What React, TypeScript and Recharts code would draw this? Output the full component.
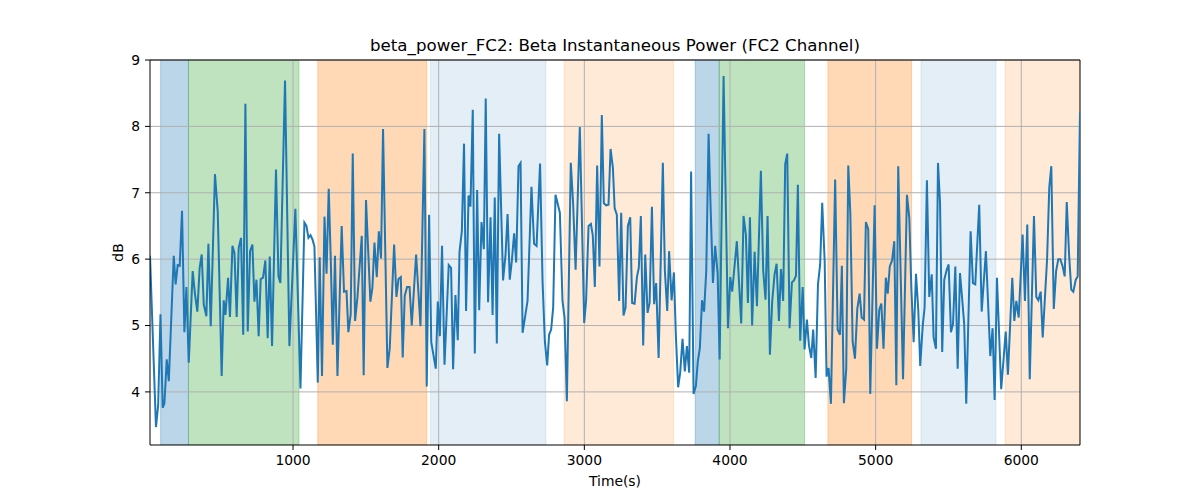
import React from 'react';
import { ComposedChart, Line, XAxis, YAxis, ReferenceArea, ReferenceLine } from 'recharts';

const times = [18,59,74,90,105,117,133,147,181,194,208,222,238,254,268,284,311,327,343,359,373,387,405,419,435,464,483,510,524,536,554,567,584,598,613,627,643,658,673,689,705,721,735,749,764,778,794,810,826,840,856,883,900,913,945,975,1016,1051,1078,1092,1106,1120,1133,1147,1170,1183,1199,1216,1230,1245,1259,1273,1288,1305,1334,1350,1367,1380,1396,1410,1426,1442,1472,1485,1501,1531,1545,1559,1575,1589,1604,1618,1648,1664,1694,1710,1724,1740,1753,1767,1783,1800,1815,1845,1875,1902,1918,1934,1949,1980,1994,2008,2023,2040,2069,2085,2099,2115,2131,2143,2159,2174,2188,2205,2218,2234,2248,2264,2278,2294,2310,2323,2339,2356,2370,2385,2399,2415,2442,2459,2473,2488,2502,2518,2532,2548,2562,2576,2610,2637,2655,2672,2696,2713,2729,2745,2758,2772,2786,2802,2832,2850,2864,2880,2907,2923,2940,2969,2999,3012,3029,3045,3058,3072,3088,3104,3120,3134,3150,3166,3180,3196,3208,3223,3239,3253,3269,3283,3299,3315,3328,3345,3361,3374,3388,3404,3418,3434,3448,3464,3479,3493,3510,3539,3553,3569,3582,3599,3615,3628,3644,3658,3674,3690,3704,3720,3733,3750,3766,3779,3793,3808,3822,3837,3853,3867,3883,3898,3915,3929,3956,3986,4002,4015,4047,4077,4093,4109,4123,4137,4152,4169,4185,4212,4228,4244,4258,4274,4290,4306,4320,4336,4350,4365,4379,4393,4409,4425,4439,4453,4466,4482,4499,4512,4528,4542,4558,4571,4588,4604,4619,4633,4650,4663,4677,4693,4722,4739,4755,4768,4782,4798,4812,4826,4842,4858,4874,4890,4904,4920,4933,4949,4963,4993,5009,5025,5039,5054,5070,5083,5097,5113,5128,5142,5155,5188,5215,5231,5245,5261,5277,5293,5306,5323,5336,5352,5368,5385,5398,5414,5428,5442,5457,5471,5488,5501,5517,5531,5547,5563,5579,5593,5608,5622,5652,5668,5684,5711,5728,5757,5787,5803,5817,5833,5862,5893,5908,5938,5952,5966,5982,6009,6025,6041,6058,6087,6103,6117,6133,6147,6177,6192,6206,6223,6239,6254,6268,6284,6298,6312,6328,6343,6357,6374,6387,6403];

const values = [6.05,3.47,3.8,5.17,3.76,3.83,4.49,4.16,6.05,5.62,5.91,5.9,6.73,4.9,5.58,4.44,5.82,5.47,5.21,5.87,6.07,5.32,5.14,6.23,4.99,7.28,6.72,4.24,5.38,5.16,5.72,5.13,6.2,6.09,5.13,6.17,6.32,4.86,8.34,4.91,6.12,6.22,5.36,5.69,4.84,5.7,5.72,5.98,4.81,6.04,4.69,7.35,5.74,5.64,8.69,4.69,6.76,4.05,6.55,6.5,6.32,6.36,6.3,6.19,4.14,6.03,4.24,6.64,5.78,7.06,6.0,4.71,6.05,4.24,6.5,5.51,5.52,4.9,5.17,7.59,5.07,5.42,6.35,4.25,6.89,5.36,5.57,6.25,5.73,6.42,6.01,7.96,4.36,4.66,6.22,5.43,5.7,5.73,4.52,5.45,5.58,5.58,5.0,6.07,4.99,7.96,4.08,6.67,4.75,4.35,5.36,4.84,6.2,4.41,5.91,5.87,4.34,5.46,4.78,6.11,6.42,7.74,5.22,6.96,6.79,8.25,4.58,7.04,5.23,6.56,6.15,8.42,5.35,6.63,5.16,6.93,4.73,7.89,5.68,6.07,6.68,5.69,5.97,6.39,5.95,7.4,7.45,4.89,5.37,7.09,6.23,6.2,7.44,5.67,4.76,4.4,4.86,4.94,5.27,6.97,6.7,5.37,5.12,3.86,7.45,6.84,5.84,7.99,5.04,5.37,6.5,6.53,6.36,5.58,7.41,5.89,8.17,6.84,6.81,6.82,7.66,7.38,6.77,6.67,5.37,6.7,5.15,5.27,6.5,6.63,5.34,5.33,5.73,5.87,6.65,4.7,6.07,5.19,5.34,6.79,5.32,5.64,4.51,7.45,5.82,5.22,6.12,5.38,5.8,4.87,4.07,4.29,4.8,4.31,4.69,4.29,7.32,3.97,4.09,4.46,4.66,5.38,5.21,5.82,7.89,6.77,5.64,6.2,5.79,4.49,8.76,4.96,5.73,5.51,6.27,5.03,6.65,6.37,5.34,6.63,5.0,6.11,5.29,7.33,5.83,5.39,6.65,4.56,5.37,5.77,5.93,5.07,5.85,5.37,7.43,7.59,4.96,5.65,5.68,5.75,7.12,4.77,5.58,4.64,5.09,4.7,4.51,4.94,4.21,5.62,5.92,6.85,5.97,4.23,4.36,3.82,7.2,4.94,4.86,5.9,3.83,4.34,7.41,6.7,4.76,4.5,5.25,5.48,5.12,5.09,6.56,6.45,3.97,6.81,4.65,5.24,5.33,4.65,5.72,5.48,5.89,5.98,6.27,4.1,7.4,4.19,6.97,6.62,5.57,4.75,5.78,5.22,4.39,4.99,5.27,7.19,5.43,5.77,4.82,4.65,7.45,6.85,4.6,5.69,5.84,5.92,4.9,5.02,5.89,4.35,5.79,5.43,5.02,3.82,6.42,5.64,5.62,6.82,5.21,6.12,4.54,4.96,3.88,5.72,4.04,4.91,4.26,5.72,5.07,5.37,5.12,6.37,5.37,6.52,4.19,6.65,5.43,5.38,5.51,4.82,6.0,7.08,7.4,5.25,5.82,6.0,6.0,5.89,5.74,6.86,6.07,5.54,5.51,5.69,5.74,8.22];

const xTicks = [1000, 2000, 3000, 4000, 5000, 6000];
const yTicks = [4, 5, 6, 7, 8, 9];
const xDomain = [18, 6403];
const yDomain = [3.2, 9];

const spanStarts = [91, 282, 1170, 1944, 2861, 3761, 3926, 4672, 5311, 5888];
const spanEnds = [282, 1041, 1918, 2736, 3613, 3926, 4512, 5247, 5826, 6403];
const spanKinds = ['blue', 'green', 'orange', 'lightblue', 'lightorange', 'blue', 'green', 'orange', 'lightblue', 'lightorange'];

const spanStyle: Record<string, { color: string; opacity: number }> = {
  blue: { color: '#1f77b4', opacity: 0.3 },
  green: { color: '#2ca02c', opacity: 0.3 },
  orange: { color: '#ff7f0e', opacity: 0.3 },
  lightblue: { color: '#1f77b4', opacity: 0.12 },
  lightorange: { color: '#ff7f0e', opacity: 0.16 },
};

const FONT = 'DejaVu Sans';
const TICK_FS = 13.89;
const data = times.map((t, i) => ({ t, v: values[i] }));

export default function App() {
  return (
    <div style={{ position: 'absolute', left: 0, top: 0, width: 1200, height: 500, background: '#fff' }}>
      <div
        style={{
          position: 'absolute',
          left: 0,
          width: 1230,
          top: 36,
          textAlign: 'center',
          fontFamily: FONT,
          fontSize: 16.67,
          lineHeight: '19.4px',
          color: '#000',
          whiteSpace: 'nowrap',
        }}
      >
        beta_power_FC2: Beta Instantaneous Power (FC2 Channel)
      </div>
      <ComposedChart width={1200} height={500} data={data} margin={{ top: 60, right: 120, bottom: 0, left: 0 }}>
        {spanStarts.map((s, i) => (
          <ReferenceArea
            key={'span' + i}
            x1={s}
            x2={spanEnds[i]}
            y1={yDomain[0]}
            y2={yDomain[1]}
            fill={spanStyle[spanKinds[i]].color}
            fillOpacity={spanStyle[spanKinds[i]].opacity}
            stroke={spanStyle[spanKinds[i]].color}
            strokeOpacity={spanStyle[spanKinds[i]].opacity}
            ifOverflow="hidden"
          />
        ))}
        {xTicks.map((t) => (
          <ReferenceLine key={'gx' + t} x={t} stroke="#b0b0b0" strokeWidth={1} />
        ))}
        {yTicks.map((t) => (
          <ReferenceLine key={'gy' + t} y={t} stroke="#b0b0b0" strokeWidth={1} />
        ))}
        <XAxis
          dataKey="t"
          type="number"
          domain={xDomain}
          ticks={xTicks}
          allowDataOverflow
          height={55}
          tickSize={5}
          tickMargin={5}
          stroke="#000"
          axisLine={{ stroke: '#000', strokeWidth: 1 }}
          tickLine={{ stroke: '#000', strokeWidth: 1 }}
          tick={{ fill: '#000', fontSize: TICK_FS, fontFamily: FONT }}
          label={{
            content: (props: any) => {
              const vb = props.viewBox;
              return (
                <text x={vb.x + vb.width / 2} y={vb.y + 41} textAnchor="middle" fontFamily={FONT} fontSize={TICK_FS} fill="#000">
                  Time(s)
                </text>
              );
            },
          }}
        />
        <YAxis
          type="number"
          domain={yDomain}
          ticks={yTicks}
          allowDataOverflow
          width={150}
          tickSize={5}
          tickMargin={5}
          stroke="#000"
          axisLine={{ stroke: '#000', strokeWidth: 1 }}
          tickLine={{ stroke: '#000', strokeWidth: 1 }}
          tick={{ fill: '#000', fontSize: TICK_FS, fontFamily: FONT }}
          label={{
            content: (props: any) => {
              const vb = props.viewBox;
              const cx = 123;
              const cy = vb.y + vb.height / 2;
              return (
                <text x={cx} y={cy} transform={`rotate(-90 ${cx} ${cy})`} textAnchor="middle" fontFamily={FONT} fontSize={TICK_FS} fill="#000">
                  dB
                </text>
              );
            },
          }}
        />
        <ReferenceLine y={yDomain[1]} stroke="#000" strokeWidth={1} />
        <ReferenceLine x={xDomain[1]} stroke="#000" strokeWidth={1} />
        <Line
          type="linear"
          dataKey="v"
          stroke="#1f77b4"
          strokeWidth={2}
          dot={false}
          activeDot={false}
          isAnimationActive={false}
        />
      </ComposedChart>
    </div>
  );
}
